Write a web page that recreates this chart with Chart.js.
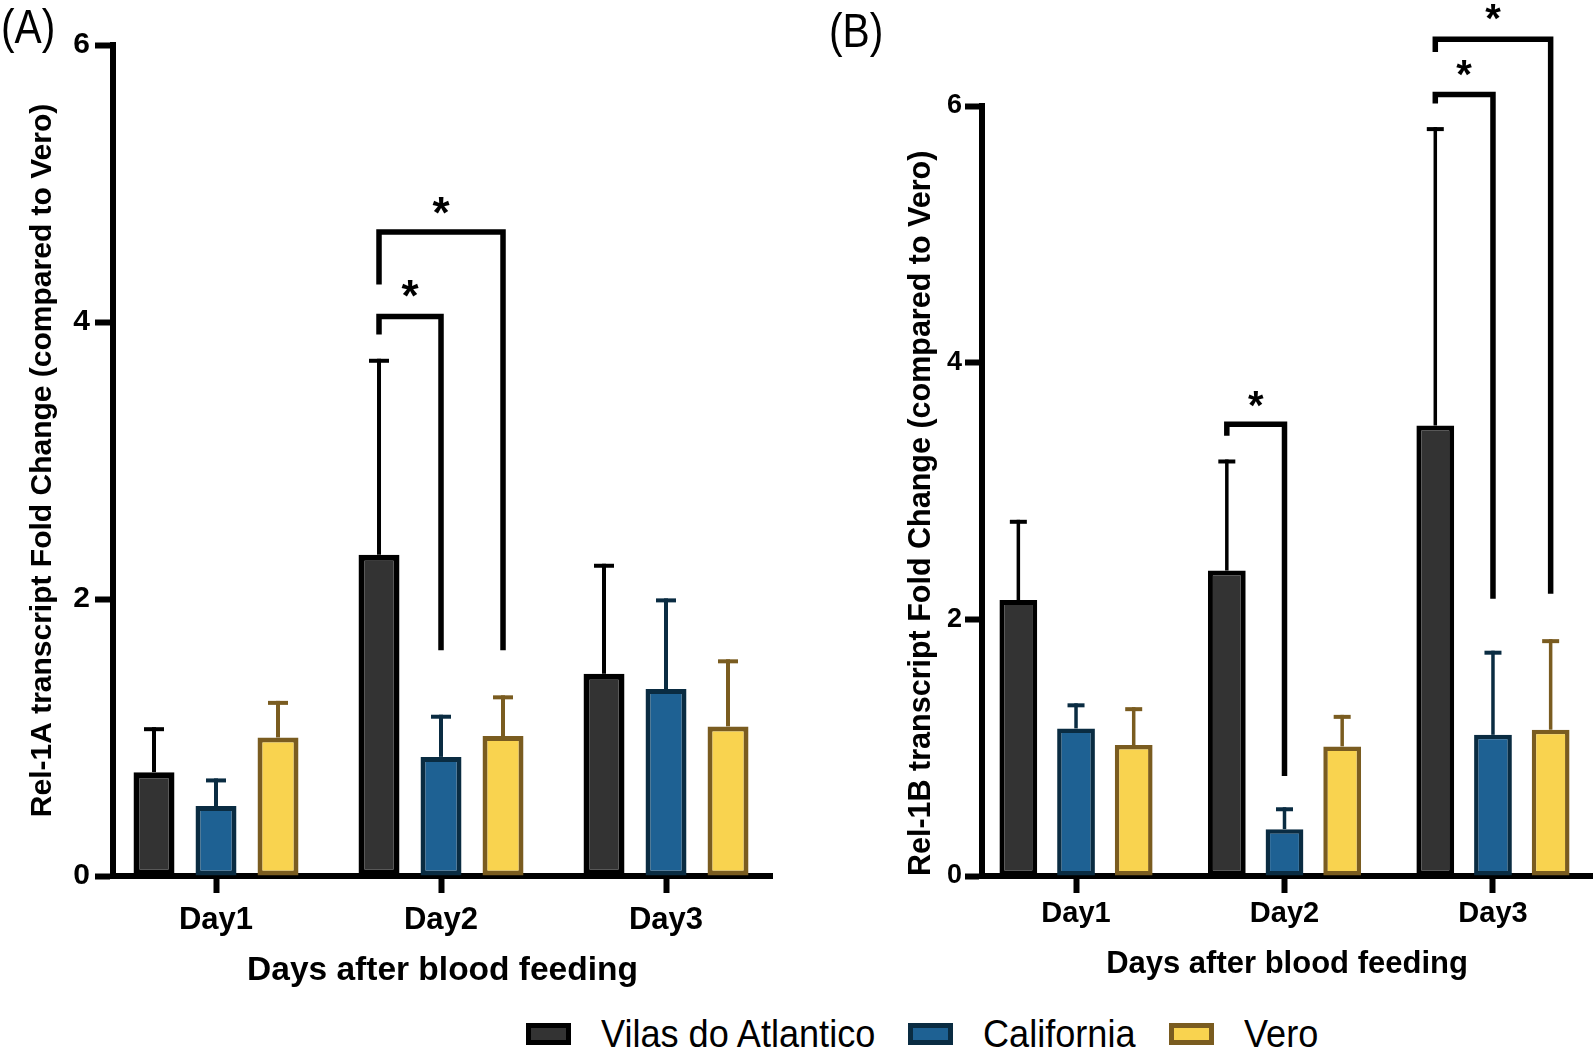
<!DOCTYPE html>
<html><head><meta charset="utf-8">
<script src="https://cdn.jsdelivr.net/npm/chart.js@4.4.0/dist/chart.umd.min.js"></script>
<style>
html,body{margin:0;padding:0;background:#fff;width:1594px;height:1053px;overflow:hidden;}
.panel{position:absolute;top:0;height:1000px;width:797px;}
#pa{left:0}#pb{left:797px}
.lab{position:absolute;font-family:"Liberation Sans",Arial,sans-serif;font-size:48px;line-height:48px;color:#000;transform:scaleX(0.85);transform-origin:0 0;}
#legend{position:absolute;left:526px;top:1016px;height:36px;display:flex;align-items:center;font-family:"Liberation Sans",Arial,sans-serif;font-size:38px;line-height:36px;color:#000;}
.box{width:45px;height:22px;box-sizing:border-box;border:5px solid;margin-right:30px;flex:none}
.txt{display:inline-block;white-space:nowrap;transform:scaleX(0.95);transform-origin:0 50%;}
</style></head>
<body>
<div class="panel" id="pa"><canvas id="ca"></canvas></div>
<div class="panel" id="pb"><canvas id="cb"></canvas></div>
<div class="lab" style="left:1px;top:3px">(A)</div>
<div class="lab" style="left:829px;top:7px">(B)</div>
<div id="legend"></div>
<script>
// ---------- data ----------
const categories = ['Day1', 'Day2', 'Day3'];
const groups = ['Vilas do Atlantico', 'California', 'Vero'];
const fillColors = ['#333333', '#1e6193', '#f9d34f'];
const edgeColors = ['#000000', '#0a2c42', '#7a5c20'];

const yTicksA = [0, 2, 4, 6];
const yTicksB = [0, 2, 4, 6];

// Panel A: Rel-1A fold change (mean, SD)
const relA_vilas = [0.75, 2.32, 1.46];
const relA_california = [0.505, 0.86, 1.35];
const relA_vero = [1.00, 1.01, 1.08];
const relA_vilas_sd = [0.31, 1.40, 0.78];
const relA_california_sd = [0.185, 0.29, 0.64];
const relA_vero_sd = [0.25, 0.28, 0.47];

// Panel B: Rel-1B fold change (mean, SD)
const relB_vilas = [2.15, 2.38, 3.51];
const relB_california = [1.15, 0.365, 1.10];
const relB_vero = [1.02, 1.01, 1.14];
const relB_vilas_sd = [0.61, 0.85, 2.31];
const relB_california_sd = [0.18, 0.155, 0.64];
const relB_vero_sd = [0.28, 0.23, 0.69];

// significance brackets (left end always Vilas do Atlantico)
const bracketA_day = [2, 2];
const bracketA_to = [1, 2];
const bracketA_top = [4.04, 4.65];
const bracketA_leftEnd = [3.91, 4.27];
const bracketA_rightEnd = [1.63, 1.63];
const bracketA_star = [4.24, 4.84];

const bracketB_day = [2, 3, 3];
const bracketB_to = [1, 1, 2];
const bracketB_top = [3.52, 6.09, 6.52];
const bracketB_leftEnd = [3.43, 6.02, 6.42];
const bracketB_rightEnd = [0.78, 2.16, 2.20];
const bracketB_star = [3.72, 6.30, 6.73];

// ---------- legend ----------
const leg = document.getElementById('legend');
const legendGaps = [33, 33, 0];
groups.forEach((g, i) => {
  const b = document.createElement('div');
  b.className = 'box';
  b.style.background = fillColors[i];
  b.style.borderColor = edgeColors[i];
  const w = document.createElement('div');
  w.style.marginRight = legendGaps[i] + 'px';
  const t = document.createElement('span');
  t.className = 'txt';
  t.textContent = g;
  w.appendChild(t);
  leg.appendChild(b); leg.appendChild(w);
  requestAnimationFrame(() => { w.style.width = (t.getBoundingClientRect().width) + 'px'; });
});

const FONT = '"Liberation Sans", Arial, sans-serif';
Chart.defaults.font.family = FONT;
Chart.defaults.color = '#000';

const errorBarPlugin = {
  id: 'errorBars',
  afterDatasetsDraw(chart) {
    const o = chart.options.plugins.errorBars;
    const ctx = chart.ctx, ys = chart.scales.y;
    ctx.save();
    chart.data.datasets.forEach((ds, di) => {
      const meta = chart.getDatasetMeta(di);
      meta.data.forEach((bar, j) => {
        const v = ds.data[j].y, sd = ds.sd[j];
        const yt = ys.getPixelForValue(v + sd);
        const yb = ys.getPixelForValue(v);
        ctx.strokeStyle = edgeColors[di];
        ctx.lineCap = 'butt';
        ctx.lineWidth = o.stem;
        ctx.beginPath(); ctx.moveTo(bar.x, yb); ctx.lineTo(bar.x, yt - o.capT / 2); ctx.stroke();
        ctx.lineWidth = o.capT;
        ctx.beginPath(); ctx.moveTo(bar.x - o.capW / 2, yt); ctx.lineTo(bar.x + o.capW / 2, yt); ctx.stroke();
      });
    });
    ctx.restore();
  }
};

const bracketPlugin = {
  id: 'brackets',
  afterDraw(chart) {
    const o = chart.options.plugins.brackets;
    const ctx = chart.ctx, ys = chart.scales.y;
    ctx.save();
    ctx.strokeStyle = '#000';
    ctx.lineWidth = o.lw;
    ctx.lineJoin = 'miter';
    ctx.lineCap = 'butt';
    o.day.forEach((d, k) => {
      const xl = chart.getDatasetMeta(0).data[d - 1].x;
      const xr = chart.getDatasetMeta(o.to[k]).data[d - 1].x;
      const yTop = ys.getPixelForValue(o.top[k]);
      ctx.beginPath();
      ctx.moveTo(xl, ys.getPixelForValue(o.leftEnd[k]));
      ctx.lineTo(xl, yTop);
      ctx.lineTo(xr, yTop);
      ctx.lineTo(xr, ys.getPixelForValue(o.rightEnd[k]));
      ctx.stroke();
      ctx.fillStyle = '#000';
      ctx.font = 'bold ' + o.starSize + 'px ' + FONT;
      ctx.textAlign = 'center';
      ctx.textBaseline = 'alphabetic';
      const m = ctx.measureText('*');
      const cy = ys.getPixelForValue(o.star[k]);
      const base = cy + (m.actualBoundingBoxAscent - m.actualBoundingBoxDescent) / 2;
      ctx.fillText('*', (xl + xr) / 2, base);
    });
    ctx.restore();
  }
};

function makePanel(id, cfg) {
  const series = [cfg.vilas, cfg.cal, cfg.vero];
  const sds = [cfg.vilasSd, cfg.calSd, cfg.veroSd];
  const datasets = series.map((s, i) => ({
    label: groups[i],
    data: s.map((v, j) => ({ x: j + 1, y: v })),
    sd: sds[i],
    backgroundColor: fillColors[i],
    borderColor: edgeColors[i],
    borderWidth: cfg.borderW[i],
    borderSkipped: false,
    categoryPercentage: cfg.catPct,
    barPercentage: cfg.barPct
  }));
  return new Chart(document.getElementById(id), {
    type: 'bar',
    data: { datasets },
    plugins: [errorBarPlugin, bracketPlugin],
    options: {
      responsive: true,
      maintainAspectRatio: false,
      animation: false,
      events: [],
      layout: { padding: { top: cfg.padTop, right: cfg.padRight, left: 0, bottom: 0 } },
      plugins: {
        legend: { display: false },
        tooltip: { enabled: false },
        errorBars: cfg.err,
        brackets: cfg.brackets
      },
      scales: {
        x: {
          type: 'linear',
          min: cfg.xMin, max: cfg.xMax,
          offset: false,
          afterBuildTicks: (s) => { s.ticks = categories.map((c, i) => ({ value: i + 1 })); },
          afterFit: (s) => { s.height = cfg.xHeight; },
          ticks: {
            autoSkip: false, maxRotation: 0, color: '#000',
            padding: cfg.xTickPad,
            font: { family: FONT, weight: 'bold', size: cfg.xTickSize },
            callback: (v) => categories[Math.round(v) - 1]
          },
          grid: { display: true, offset: false, drawOnChartArea: false, drawTicks: true, tickLength: cfg.tickLen, tickWidth: 6, tickColor: '#000' },
          border: { display: true, color: '#000', width: 6 },
          title: {
            display: true, text: 'Days after blood feeding', color: '#000',
            font: { family: FONT, weight: 'bold', size: cfg.xTitleSize, lineHeight: 1.2 },
            padding: { top: 0, bottom: cfg.xTitlePad }
          }
        },
        y: {
          min: 0, max: 6,
          afterBuildTicks: (s) => { s.ticks = cfg.yTicks.map(v => ({ value: v })); },
          afterFit: (s) => { s.width = cfg.yWidth; },
          ticks: {
            color: '#000', padding: cfg.yTickPad,
            font: { family: FONT, weight: 'bold', size: cfg.yTickSize }
          },
          grid: { display: true, drawOnChartArea: false, drawTicks: true, tickLength: cfg.yTickLen, tickWidth: 6, tickColor: '#000' },
          border: { display: true, color: '#000', width: 6 },
          title: {
            display: true, text: cfg.yTitle, color: '#000', align: cfg.yTitleAlign,
            font: { family: FONT, weight: 'bold', size: cfg.yTitleSize, lineHeight: 1.2 },
            padding: { top: cfg.yTitlePad, bottom: 0 }
          }
        }
      }
    }
  });
}

makePanel('ca', {
  vilas: relA_vilas, cal: relA_california, vero: relA_vero,
  vilasSd: relA_vilas_sd, calSd: relA_california_sd, veroSd: relA_vero_sd,
  yTicks: yTicksA,
  borderW: [6, 5, 5], catPct: 0.8267, barPct: 0.661,
  padTop: 45, padRight: 25, yWidth: 113, xHeight: 124,
  xMin: 0.5422, xMax: 3.471,
  tickLen: 17, xTickPad: 9, xTickSize: 31, xTitleSize: 33.5, xTitlePad: 9,
  yTickLen: 18, yTickPad: 5, yTickSize: 30,
  yTitle: 'Rel-1A transcript Fold Change (compared to Vero)', yTitleAlign: 'center', yTitleSize: 30, yTitlePad: 25,
  err: { stem: 4, capW: 20, capT: 4 },
  brackets: { day: bracketA_day, to: bracketA_to, top: bracketA_top, leftEnd: bracketA_leftEnd, rightEnd: bracketA_rightEnd, star: bracketA_star, lw: 5.5, starSize: 44 }
});

makePanel('cb', {
  vilas: relB_vilas, cal: relB_california, vero: relB_vero,
  vilasSd: relB_vilas_sd, calSd: relB_california_sd, veroSd: relB_vero_sd,
  yTicks: yTicksB,
  borderW: [5, 4.5, 4.5], catPct: 0.83, barPct: 0.655,
  padTop: 106, padRight: 2, yWidth: 185, xHeight: 124,
  xMin: 0.549, xMax: 3.475,
  tickLen: 17, xTickPad: 4, xTickSize: 29, xTitleSize: 31, xTitlePad: 17,
  yTickLen: 17, yTickPad: 3, yTickSize: 27,
  yTitle: 'Rel-1B transcript Fold Change (compared to Vero)', yTitleAlign: 'start', yTitleSize: 30.5, yTitlePad: 106,
  err: { stem: 3.5, capW: 17, capT: 4 },
  brackets: { day: bracketB_day, to: bracketB_to, top: bracketB_top, leftEnd: bracketB_leftEnd, rightEnd: bracketB_rightEnd, star: bracketB_star, lw: 5.5, starSize: 40 }
});
</script>
</body></html>
